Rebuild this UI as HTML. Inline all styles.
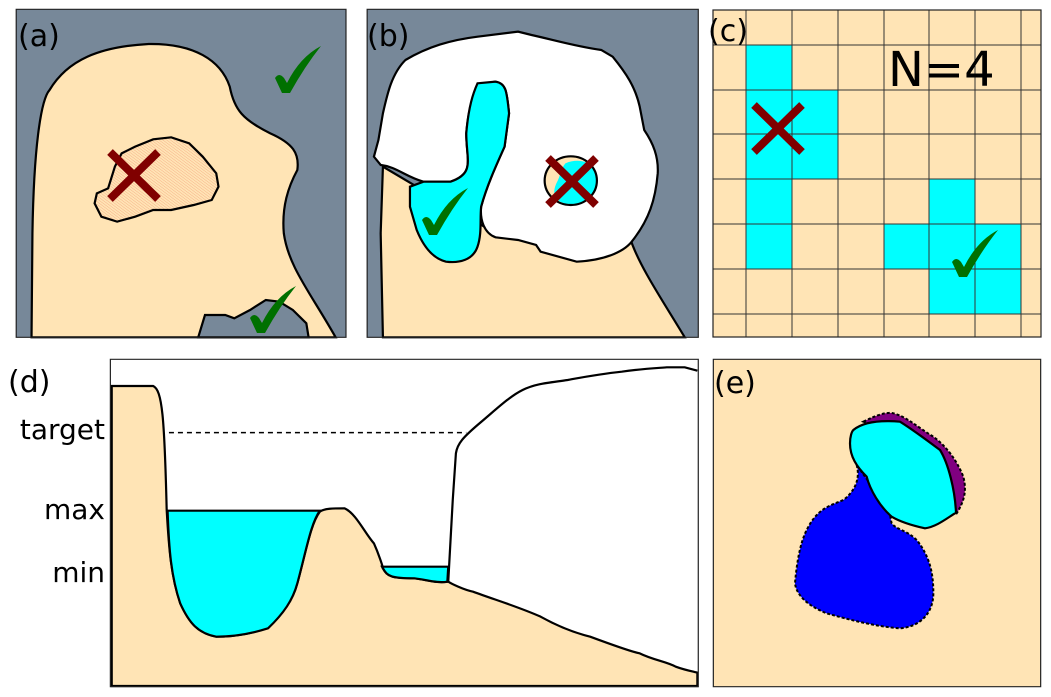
<!DOCTYPE html>
<html><head><meta charset="utf-8"><style>
html,body{margin:0;padding:0;background:#fff;}
svg{display:block;}
text{font-family:"DejaVu Sans","Liberation Sans",sans-serif;fill:#000;}
</style></head><body>
<svg width="1051" height="697" viewBox="0 0 1051 697" xmlns="http://www.w3.org/2000/svg">
<defs>
<pattern id="hat" width="6" height="6" patternUnits="userSpaceOnUse" patternTransform="rotate(-45)">
<rect width="6" height="6" fill="#FFE4B5"/>
<line x1="0" y1="0" x2="0" y2="6" stroke="#f08060" stroke-width="1.3"/>
</pattern>
<path id="chk" d="M0,32 Q4,26 9,32 L12,37 Q25,11 46,0 Q30,20 15,47 L7,47 Z" fill="#007000"/>
<g id="xx"><line x1="0" y1="0" x2="48" y2="47" stroke="#800000" stroke-width="8"/><line x1="48" y1="0" x2="0" y2="47" stroke="#800000" stroke-width="8"/></g>
</defs>

<!-- Panel a -->
<g transform="scale(0.4505,0.33333)">
<rect x="36" y="28" width="732" height="984" fill="#778899"/>
<path d="M70,1012 L72,700 C75,450 90,300 110,270 C150,180 220,140 330,132 C430,130 490,180 510,260 C520,330 540,360 600,400 C650,430 665,460 660,510 C640,560 625,620 630,700 C640,800 690,880 745,1012 Z" fill="#FFE4B5" stroke="#000" stroke-width="2.2" vector-effect="non-scaling-stroke"/>
<path d="M440,1012 L455,945 L500,945 L520,955 L555,930 L590,900 L620,905 L650,930 L680,970 L685,1012 Z" fill="#778899" stroke="#000" stroke-width="2.2" vector-effect="non-scaling-stroke"/>
<path d="M215,580 L240,565 L255,500 L270,460 L300,440 L340,418 L380,412 L420,430 L450,470 L480,520 L485,560 L470,600 L430,615 L380,630 L340,630 L300,650 L260,665 L225,650 L210,610 Z" fill="url(#hat)" stroke="#000" stroke-width="2.2" vector-effect="non-scaling-stroke"/>
<rect x="36" y="28" width="732" height="984" fill="none" stroke="#222" stroke-width="1.2" vector-effect="non-scaling-stroke"/>
</g>
<use href="#xx" transform="translate(110,152)"/>
<use href="#chk" transform="translate(275,46)"/>
<use href="#chk" transform="translate(250,286)"/>
<text x="18" y="46" font-size="30">(a)</text>

<!-- Panel b -->
<g transform="scale(0.4505,0.33333)">
<rect x="815" y="28" width="735" height="984" fill="#778899"/>
<path d="M850,1012 L845,700 L850,500 L1100,700 L1400,720 C1420,800 1470,900 1520,1012 Z" fill="#FFE4B5" stroke="#000" stroke-width="2.2" vector-effect="non-scaling-stroke"/>
<path d="M900,180 C950,140 1000,120 1060,110 L1150,95 L1180,105 C1230,120 1280,140 1335,150 L1360,170 C1390,220 1410,260 1420,320 L1430,390 C1450,430 1462,470 1460,520 C1455,600 1440,660 1405,720 C1390,750 1350,780 1280,785 L1200,755 L1190,735 L1150,720 L1100,712 C1075,700 1065,660 1068,620 C1080,560 1100,500 1120,440 L1130,340 C1125,280 1125,250 1100,245 L1080,250 C1050,280 1040,320 1035,400 C1035,480 1055,520 1000,545 L940,545 C900,530 880,500 845,495 L830,470 L840,420 L850,340 C860,280 870,220 900,180 Z" fill="#fff" stroke="#000" stroke-width="2.2" vector-effect="non-scaling-stroke"/>
<path d="M1060,250 L1100,245 C1125,250 1125,280 1130,340 L1120,440 C1100,500 1080,560 1068,620 C1065,660 1070,700 1060,740 C1050,780 1020,790 990,785 C960,775 940,740 925,690 L910,620 L910,560 L940,545 L1000,545 C1055,520 1035,480 1035,400 C1040,320 1050,280 1060,250 Z" fill="#00FFFF" stroke="#000" stroke-width="2.2" vector-effect="non-scaling-stroke"/>
<ellipse cx="1265" cy="542" rx="58" ry="75" fill="#FFE4B5"/>
<path d="M1255,490 C1290,470 1325,490 1325,540 C1325,590 1300,615 1260,612 C1230,605 1225,580 1235,550 C1245,525 1245,505 1255,490 Z" fill="#00FFFF"/>
<ellipse cx="1267" cy="542" rx="58" ry="73" fill="none" stroke="#000" stroke-width="2.2" vector-effect="non-scaling-stroke"/>
<rect x="815" y="28" width="735" height="984" fill="none" stroke="#222" stroke-width="1.2" vector-effect="non-scaling-stroke"/>
</g>
<use href="#chk" transform="translate(422,188)"/>
<use href="#xx" transform="translate(548,158)"/>
<text x="367" y="46" font-size="30">(b)</text>

<!-- Panel c -->
<rect x="713" y="10" width="328" height="327" fill="#FFE4B5"/>
<g fill="#00FFFF">
<rect x="746" y="45" width="46" height="45"/>
<rect x="746" y="90" width="92" height="89"/>
<rect x="746" y="179" width="46" height="90"/>
<rect x="929" y="179" width="46" height="45"/>
<rect x="884" y="224" width="137" height="45"/>
<rect x="929" y="269" width="92" height="45"/>
</g>
<g stroke="#333" stroke-width="1">
<line x1="746" y1="10" x2="746" y2="337"/><line x1="792" y1="10" x2="792" y2="337"/><line x1="838" y1="10" x2="838" y2="337"/><line x1="884" y1="10" x2="884" y2="337"/><line x1="929" y1="10" x2="929" y2="337"/><line x1="975" y1="10" x2="975" y2="337"/><line x1="1021" y1="10" x2="1021" y2="337"/>
<line x1="713" y1="45" x2="1041" y2="45"/><line x1="713" y1="90" x2="1041" y2="90"/><line x1="713" y1="134" x2="1041" y2="134"/><line x1="713" y1="179" x2="1041" y2="179"/><line x1="713" y1="224" x2="1041" y2="224"/><line x1="713" y1="269" x2="1041" y2="269"/><line x1="713" y1="314" x2="1041" y2="314"/>
</g>
<rect x="713" y="10" width="328" height="327" fill="none" stroke="#222" stroke-width="1.2"/>
<use href="#xx" transform="translate(754,105)"/>
<use href="#chk" transform="translate(952,230)"/>
<text x="708" y="41" font-size="30">(c)</text>
<text x="888" y="86" font-size="48">N=4</text>

<!-- Panel d -->
<g transform="translate(0,350) scale(0.4505,0.33333)">
<rect x="245" y="28" width="1305" height="982" fill="#fff"/>
<path d="M248,108 L340,108 C360,120 365,200 370,480 C375,600 380,680 400,760 C420,820 440,850 480,860 C520,860 560,850 590,835 C630,790 650,750 660,700 C680,600 690,520 710,485 C720,475 740,475 765,475 C790,490 810,550 830,580 C840,610 850,650 850,655 C860,680 870,685 920,685 C950,690 970,700 995,695 C1000,700 1030,720 1050,725 C1100,750 1150,770 1200,800 C1240,830 1280,850 1310,860 C1350,880 1400,905 1420,910 C1450,930 1480,935 1500,950 C1520,960 1540,965 1548,968 L1548,1008 L248,1008 Z" fill="#FFE4B5" stroke="#000" stroke-width="2.2" vector-effect="non-scaling-stroke"/>
<path d="M372,482 L710,482 C690,520 680,600 660,700 C650,750 630,790 595,835 C560,850 520,860 480,860 C440,850 420,820 400,760 C380,680 375,600 372,482 Z" fill="#00FFFF" stroke="#000" stroke-width="2.2" vector-effect="non-scaling-stroke"/>
<path d="M848,650 L995,650 L993,695 C970,700 950,690 920,685 C870,685 860,680 850,655 Z" fill="#00FFFF" stroke="#000" stroke-width="2.2" vector-effect="non-scaling-stroke"/>
<path d="M995,695 L1005,450 L1012,310 C1015,280 1030,260 1060,225 C1100,180 1130,140 1160,120 C1190,100 1220,98 1260,90 C1300,80 1330,72 1380,65 C1420,57 1450,55 1480,52 L1520,52 L1548,62" fill="none" stroke="#000" stroke-width="2.2" vector-effect="non-scaling-stroke"/>
<path d="M375,248 L1035,248" stroke="#000" stroke-width="1.5" stroke-dasharray="5,4" vector-effect="non-scaling-stroke"/>
<rect x="245" y="28" width="1305" height="982" fill="none" stroke="#222" stroke-width="1.2" vector-effect="non-scaling-stroke"/>
</g>
<text x="8" y="392" font-size="30">(d)</text>
<text x="105" y="439" font-size="28" text-anchor="end">target</text>
<text x="105" y="519" font-size="28" text-anchor="end">max</text>
<text x="105" y="582" font-size="28" text-anchor="end">min</text>

<!-- Panel e -->
<g transform="translate(700,350) scale(0.33333)">
<rect x="40" y="28" width="982" height="982" fill="#FFE4B5" stroke="#222" stroke-width="1.2" vector-effect="non-scaling-stroke"/>
<path d="M470,345 C480,380 470,420 430,450 C380,470 350,480 320,540 C300,580 290,640 285,700 C290,740 330,770 380,790 C450,810 530,830 600,835 C660,830 700,790 700,730 C700,670 690,620 650,570 C620,540 590,540 575,520 C570,500 570,480 560,470 Z" fill="#0000FF" stroke="#000" stroke-width="2" stroke-dasharray="3,2" vector-effect="non-scaling-stroke"/>
<path d="M490,215 C530,195 560,185 580,190 C620,200 650,230 700,260 C740,290 770,330 790,380 C800,420 795,450 770,490 L760,490 C760,420 740,330 720,300 Z" fill="#800080" stroke="#000" stroke-width="2" stroke-dasharray="3,2" vector-effect="non-scaling-stroke"/>
<path d="M460,240 C490,215 540,210 600,215 C640,240 680,270 720,300 C745,340 765,420 768,488 C740,505 710,530 675,535 C630,525 600,515 575,500 C540,470 510,420 500,380 C470,350 450,320 450,280 C450,260 455,245 460,240 Z" fill="#00FFFF" stroke="#000" stroke-width="2.2" vector-effect="non-scaling-stroke"/>
</g>
<text x="714" y="393" font-size="30">(e)</text>
</svg>
</body></html>
